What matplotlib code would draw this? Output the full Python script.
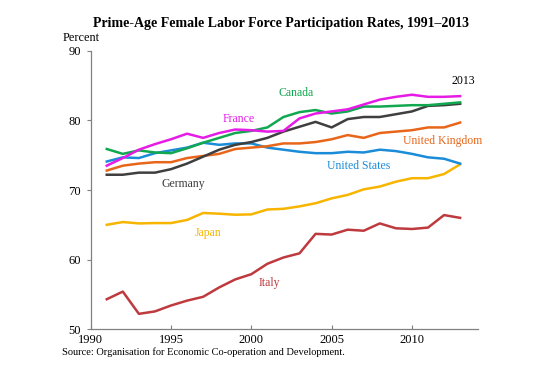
import matplotlib
matplotlib.use("Agg")
from matplotlib import pyplot as plt

years = list(range(1991, 2014))

canada = [75.9, 75.2, 75.7, 75.4, 75.3, 76.0, 76.8, 77.5, 78.2, 78.5, 79.0, 80.5,
          81.2, 81.5, 81.0, 81.3, 82.0, 82.0, 82.1, 82.2, 82.2, 82.4, 82.6]
france = [73.5, 74.6, 75.8, 76.6, 77.3, 78.1, 77.5, 78.2, 78.7, 78.6, 78.4, 78.5,
          80.3, 81.0, 81.3, 81.6, 82.3, 83.0, 83.4, 83.7, 83.4, 83.4, 83.5]
germany = [72.2, 72.2, 72.5, 72.5, 73.0, 73.8, 74.8, 75.8, 76.5, 76.9, 77.5, 78.4,
           79.1, 79.8, 79.0, 80.2, 80.5, 80.5, 80.9, 81.3, 82.1, 82.2, 82.4]
uk = [72.8, 73.5, 73.8, 74.0, 74.0, 74.6, 74.9, 75.2, 75.9, 76.1, 76.3, 76.7,
      76.7, 76.9, 77.3, 77.9, 77.5, 78.2, 78.4, 78.6, 79.0, 79.0, 79.7]
us = [74.1, 74.7, 74.6, 75.3, 75.7, 76.1, 76.8, 76.5, 76.7, 76.7, 76.1, 75.8,
      75.5, 75.3, 75.3, 75.5, 75.4, 75.8, 75.6, 75.2, 74.7, 74.5, 73.8]
japan = [65.0, 65.4, 65.2, 65.25, 65.25, 65.7, 66.7, 66.6, 66.45, 66.5, 67.2, 67.3,
         67.65, 68.1, 68.8, 69.3, 70.1, 70.5, 71.2, 71.7, 71.7, 72.3, 73.7]
italy = [54.3, 55.4, 52.2, 52.55, 53.4, 54.1, 54.65, 56.0, 57.15, 57.9, 59.4, 60.3,
         60.9, 63.7, 63.6, 64.3, 64.15, 65.2, 64.5, 64.4, 64.6, 66.4, 66.0]

series = [
    ("Italy", italy, "#BE3A3E", (2001.15, 56.65)),
    ("Japan", japan, "#F7B500", (1997.3, 63.85)),
    ("United States", us, "#1A8CD8", (2006.65, 73.45)),
    ("United Kingdom", uk, "#E8661A", (2011.9, 77.05)),
    ("Germany", germany, "#3F3F3F", (1995.77, 70.9)),
    ("Canada", canada, "#12A850", (2002.8, 83.9)),
    ("France", france, "#E61CE6", (1999.2, 80.2)),
]

plt.rcParams['font.family'] = ['Liberation Serif', 'DejaVu Serif']

fig = plt.figure(figsize=(5.53, 3.69), dpi=100)
ax = fig.add_axes([0.164, 0.108, 0.700, 0.754])

for name, vals, color, (lx, ly) in series:
    ax.plot(years, vals, color=color, linewidth=1.8, solid_joinstyle='round')
    ax.text(lx, ly, name, color=color, fontsize=8.5, ha='center', va='center')

ax.text(2013.2, 85.7, "2013", color='black', fontsize=8.5, ha='center', va='center')

ax.set_xlim(1990, 2014.1)
ax.set_ylim(50, 90)
ax.set_xticks([1990, 1995, 2000, 2005, 2010])
ax.set_yticks([50, 60, 70, 80, 90])
ax.spines['top'].set_visible(False)
ax.spines['right'].set_visible(False)
for s in ('left', 'bottom'):
    ax.spines[s].set_color('#808080')
    ax.spines[s].set_linewidth(0.9)
ax.tick_params(axis='x', direction='in', length=3, color='#808080',
               labelsize=9, pad=3.5)
ax.tick_params(axis='y', direction='out', length=3, color='#808080',
               labelsize=9, pad=4)

fig.text(0.508, 0.935, "Prime-Age Female Labor Force Participation Rates, 1991\u20132013",
         ha='center', va='center', fontsize=10, fontweight='bold')
fig.text(0.113, 0.897, "Percent", ha='left', va='center', fontsize=8.8)
fig.text(0.113, 0.046, "Source: Organisation for Economic Co-operation and Development.",
         ha='left', va='center', fontsize=7.5)

fig.savefig("out.png", dpi=100)
